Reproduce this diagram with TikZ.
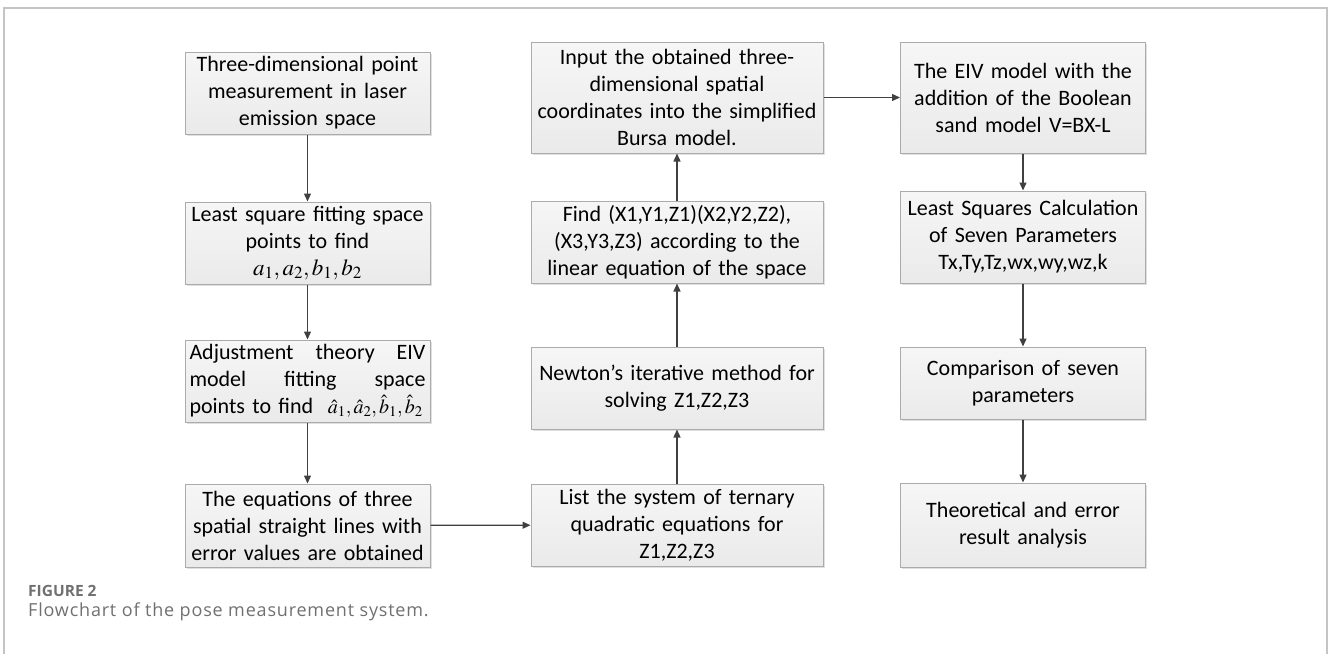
\documentclass[tikz,border=0pt]{standalone}
\usepackage{mathptmx}
\usepackage[no-math]{fontspec}
\setmainfont{Carlito}
\newfontfamily\capfont[LetterSpace=4.5]{Open Sans}
\newfontfamily\captitlefont{Open Sans}
\usetikzlibrary{arrows.meta,shadows}
\definecolor{boxline}{HTML}{ABABAB}
\definecolor{boxtop}{HTML}{F6F6F6}
\definecolor{boxbot}{HTML}{EAEAEA}
\definecolor{arrowc}{HTML}{404040}
\definecolor{capc}{HTML}{707070}
\definecolor{framec}{HTML}{C4C4C4}
\begin{document}
\begin{tikzpicture}[x=1pt,y=-1pt,
  flowbox/.style={draw=boxline, line width=1pt, top color=boxtop, bottom color=boxbot,
    inner sep=0pt, align=center, font=\fontsize{22}{27}\selectfont,
    drop shadow={shadow xshift=1.5pt, shadow yshift=-1.5pt, fill=black, opacity=0.12}},
  narrowbox/.style={flowbox, minimum width=245pt, text width=238pt},
  widebox/.style={flowbox, minimum width=292pt, text width=288pt},
  flowarrow/.style={draw=arrowc, line width=1.3pt, -{Triangle[length=8pt,width=7pt]}},
  captitle/.style={anchor=base west, text=capc, inner sep=0pt, font=\captitlefont\bfseries\fontsize{15.5}{18}\selectfont},
  captext/.style={anchor=base west, text=capc, inner sep=0pt, font=\capfont\fontsize{18}{20}\selectfont}]
\useasboundingbox (0,0) rectangle (1328,654);
\draw[framec, line width=1.5pt] (4,654) -- (4,8) -- (1327,8) -- (1327,654);

% column 1
\node[narrowbox, minimum height=82pt] (a1) at (307.5,93) {Three-dimensional point\\ measurement in laser\\ emission space};
\node[narrowbox, minimum height=82pt] (a2) at (307.5,243) {Least square fitting space\\ points to find\\ {\fontsize{23}{27}\selectfont$a_1,a_2,b_1,b_2$}};
\node[narrowbox, minimum height=82pt] (a3) at (307.5,381) {\makebox[236pt][l]{Adjustment\hfill theory\hfill EIV}\\ \makebox[236pt][l]{model\hfill fitting\hfill space}\\ \makebox[236pt][l]{points to find\ \ {\fontsize{20}{27}\selectfont$\hat{a}_1,\hat{a}_2,\hat{b}_1,\hat{b}_2$}\hfill}};
\node[narrowbox, minimum height=83pt] (a4) at (307.5,525.5) {The equations of three\\ spatial straight lines with\\ error values are obtained};

% column 2
\node[widebox, minimum height=111pt] (b1) at (677,97.5) {Input the obtained three-\\ dimensional spatial\\ coordinates into the simplified\\ Bursa model.};
\node[widebox, minimum height=82pt] (b2) at (677,242) {Find (X1,Y1,Z1)(X2,Y2,Z2),\\ (X3,Y3,Z3) according to the\\ linear equation of the space};
\node[widebox, minimum height=82pt] (b3) at (677,388) {Newton's iterative method for\\ solving Z1,Z2,Z3};
\node[widebox, minimum height=82pt] (b4) at (677,525) {List the system of ternary\\ quadratic equations for\\ Z1,Z2,Z3};

% column 3
\node[narrowbox, minimum height=111pt] (c1) at (1023,97.5) {The EIV model with the\\ addition of the Boolean\\ sand model V=BX-L};
\node[narrowbox, minimum height=92pt] (c2) at (1023,237) {Least Squares Calculation\\ of Seven Parameters\\ Tx,Ty,Tz,wx,wy,wz,k};
\node[narrowbox, minimum height=72pt] (c3) at (1023,383) {Comparison of seven\\ parameters};
\node[narrowbox, minimum height=84pt] (c4) at (1023,525) {Theoretical and error\\ result analysis};

% connectors
\draw[flowarrow] (a1) -- (a2);
\draw[flowarrow] (a2) -- (a3);
\draw[flowarrow] (a3) -- (a4);
\draw[flowarrow] (a4) -- (b4);
\draw[flowarrow] (b4) -- (b3);
\draw[flowarrow] (b3) -- (b2);
\draw[flowarrow] (b2) -- (b1);
\draw[flowarrow] (b1) -- (c1);
\draw[flowarrow] (c1) -- (c2);
\draw[flowarrow] (c2) -- (c3);
\draw[flowarrow] (c3) -- (c4);

% caption
\node[captitle] (figlabel) at (28,596) {FIGURE 2};
\node[captext] (figtext) at (28,616) {Flowchart of the pose measurement system.};
\end{tikzpicture}
\end{document}
